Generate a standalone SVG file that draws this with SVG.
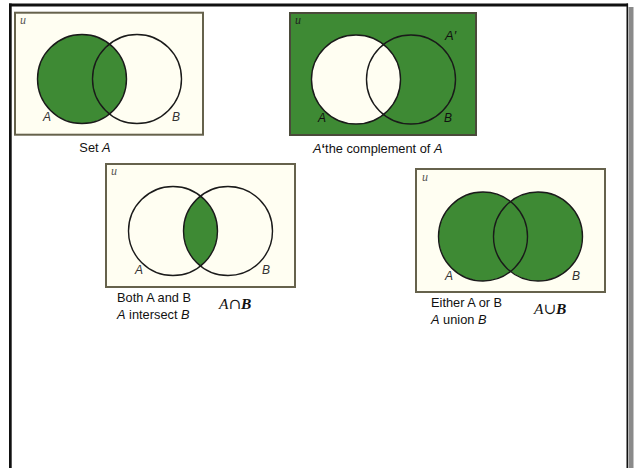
<svg xmlns="http://www.w3.org/2000/svg" width="635" height="468" viewBox="0 0 635 468">
<defs>
<style>
.panel{fill:#fffef2;stroke:#66624c;stroke-width:2}
.gpanel{fill:#3e8a34;stroke:#4a4a3a;stroke-width:2}
.ring{fill:none;stroke:#1a1a1a;stroke-width:1.4}
.g{fill:#3e8a34}
.c{fill:#fffef2}
.u{font-family:"Liberation Serif",serif;font-style:italic;font-size:12px;fill:#555}
.lbl{font-family:"Liberation Sans",sans-serif;font-style:italic;font-size:12px;fill:#333}
.cap{font-family:"Liberation Sans",sans-serif;font-size:12.8px;fill:#111}
.it{font-style:italic}
.sym{font-family:"Liberation Serif",serif;font-size:15.5px;fill:#111}
.op{font-family:"DejaVu Serif",serif;font-size:15px}
</style>
<clipPath id="clipB3"><circle cx="228" cy="231" r="44.5"/></clipPath>
</defs>
<rect width="635" height="468" fill="#ffffff"/>
<g id="frame">
<rect x="9" y="3.5" width="619" height="3" fill="#111"/>
<rect x="9" y="3.5" width="2.7" height="465" fill="#111"/>
<rect x="626.5" y="3.5" width="1.6" height="465" fill="#111"/>
<rect x="628.5" y="7" width="5" height="461" fill="#8a8a8a"/>
</g>
<g id="set-a">
<rect class="panel" x="15" y="12.7" width="188" height="122"/>
<circle class="g" cx="82" cy="79" r="44.5"/>
<circle class="ring" cx="82" cy="79" r="44.5"/>
<circle class="ring" cx="137" cy="79" r="44.5"/>
<text class="u" x="20" y="24">u</text>
<text class="lbl" x="43" y="121">A</text>
<text class="lbl" x="172" y="121">B</text>
<text class="cap" x="95" y="152" text-anchor="middle">Set <tspan class="it">A</tspan></text>
</g>
<g id="complement">
<rect class="gpanel" x="290" y="13" width="186" height="122"/>
<circle class="c" cx="356" cy="79.5" r="44.5"/>
<circle class="ring" cx="356" cy="79.5" r="44.5"/>
<circle class="ring" cx="411" cy="79.5" r="44.5"/>
<text class="u" x="295" y="24" style="fill:#222">u</text>
<text class="lbl" x="445" y="40" style="font-size:13px;fill:#111">A′</text>
<text class="lbl" x="318" y="122" style="fill:#111">A</text>
<text class="lbl" x="444" y="122" style="fill:#111">B</text>
<text class="cap" x="313" y="153"><tspan class="it">A</tspan><tspan font-weight="bold">‘</tspan>the complement of <tspan class="it">A</tspan></text>
</g>
<g id="intersect">
<rect class="panel" x="106" y="164" width="189" height="123"/>
<circle class="g" cx="173" cy="231" r="44.5" clip-path="url(#clipB3)"/>
<circle class="ring" cx="173" cy="231" r="44.5"/>
<circle class="ring" cx="228" cy="231" r="44.5"/>
<text class="u" x="111" y="175">u</text>
<text class="lbl" x="135" y="274">A</text>
<text class="lbl" x="262" y="274">B</text>
<text class="cap" x="117" y="302">Both A and B</text>
<text class="cap" x="117" y="319"><tspan class="it">A</tspan> intersect <tspan class="it">B</tspan></text>
<text class="sym" x="219" y="309"><tspan class="it">A</tspan><tspan class="op">∩</tspan><tspan class="it" font-weight="bold">B</tspan></text>
</g>
<g id="union">
<rect class="panel" x="416" y="169" width="189" height="123"/>
<circle class="g" cx="483" cy="236.5" r="44.5"/>
<circle class="g" cx="538" cy="236.5" r="44.5"/>
<circle class="ring" cx="483" cy="236.5" r="44.5"/>
<circle class="ring" cx="538" cy="236.5" r="44.5"/>
<text class="u" x="422" y="180.5">u</text>
<text class="lbl" x="445" y="280">A</text>
<text class="lbl" x="572" y="280">B</text>
<text class="cap" x="431" y="307">Either A or B</text>
<text class="cap" x="431" y="323.5"><tspan class="it">A</tspan> union <tspan class="it">B</tspan></text>
<text class="sym" x="534" y="314"><tspan class="it">A</tspan><tspan class="op">∪</tspan><tspan class="it" font-weight="bold">B</tspan></text>
</g>
<g id="connectors"></g>
</svg>
